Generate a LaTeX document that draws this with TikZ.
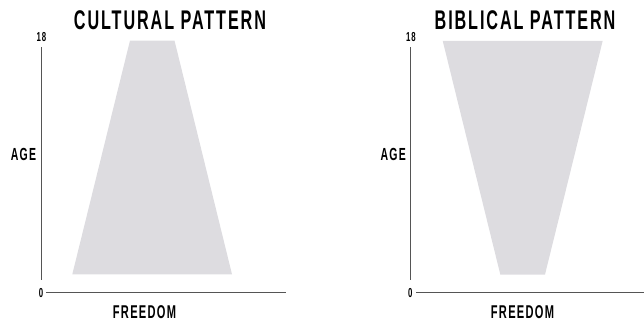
\documentclass[tikz,border=0pt]{standalone}
\usepackage{fontspec}
\newfontfamily\condfont[FakeStretch=0.6,LetterSpace=7]{Liberation Sans Bold}
\definecolor{shade}{HTML}{DDDCE0}
\definecolor{axisgray}{HTML}{555555}
\begin{document}
\begin{tikzpicture}[x=1pt,y=-1pt,
  lbl/.style={inner sep=0pt,font=\condfont\fontsize{#1}{#1}\selectfont,text=black},
  axisline/.style={draw=axisgray,line width=1pt},
  area/.style={fill=shade}]
\useasboundingbox (0,0) rectangle (644,322);
% ---------- left panel ----------
\node[lbl=27] (t1) at (170,20) {CULTURAL PATTERN};
\fill[area] (130,40.5) -- (174.5,40.5) -- (232,274.3) -- (72.3,274.3) -- cycle;
\node[lbl=13] (y1top) at (41.5,37.5) {18};
\node[lbl=13] (y1zero) at (41,292.7) {0};
\coordinate (v1a) at (41.5,47);
\coordinate (v1b) at (41.5,280);
\coordinate (h1a) at (46,292.7);
\coordinate (h1b) at (286,292.7);
\draw[axisline] (v1a) -- (v1b);
\draw[axisline] (h1a) -- (h1b);
\node[lbl=17.5] (age1) at (23.5,154) {AGE};
\node[lbl=18.5] (fr1) at (144.5,312) {FREEDOM};
% ---------- right panel ----------
\node[lbl=27] (t2) at (525,20) {BIBLICAL PATTERN};
\fill[area] (442.7,40.8) -- (602.7,40.8) -- (545,274.5) -- (500.3,274.5) -- cycle;
\node[lbl=13] (y2top) at (411,37.5) {18};
\node[lbl=13] (y2zero) at (410.2,292.7) {0};
\coordinate (v2a) at (410.5,47);
\coordinate (v2b) at (410.5,280);
\coordinate (h2a) at (416,292.7);
\coordinate (h2b) at (644,292.7);
\draw[axisline] (v2a) -- (v2b);
\draw[axisline] (h2a) -- (h2b);
\node[lbl=17.5] (age2) at (393.2,154) {AGE};
\node[lbl=18.5] (fr2) at (522.5,312) {FREEDOM};
\end{tikzpicture}
\end{document}
